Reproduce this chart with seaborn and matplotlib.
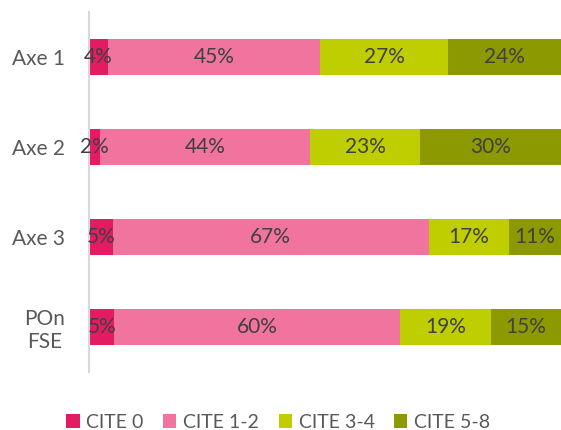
import numpy as np
import pandas as pd
import matplotlib
matplotlib.use("Agg")
import matplotlib.pyplot as plt
import seaborn as sns
from matplotlib.patches import Patch

categories = ["Axe 1", "Axe 2", "Axe 3", "POn\nFSE"]
series_names = ["CITE 0", "CITE 1-2", "CITE 3-4", "CITE 5-8"]
cite0 = [4.0, 2.4, 5.0, 5.4]
cite12 = [45.0, 44.4, 67.0, 60.4]
cite34 = [27.0, 23.4, 17.0, 19.4]
cite58 = [24.0, 29.8, 11.0, 14.8]
colors = ["#E31B62", "#F0749E", "#BFCE00", "#8C9900"]

sns.set_theme(style="white")
plt.rcParams["font.family"] = ["Lato", "DejaVu Sans"]

values = np.array([cite0, cite12, cite34, cite58])
cum = np.cumsum(values, axis=0)

fig = plt.figure(figsize=(5.61, 4.30), dpi=100)
ax = fig.add_axes([89 / 561, 1 - 372 / 430, 472 / 561, 360 / 430])

# draw cumulative bars from largest to smallest so they stack visually
for i in range(len(series_names) - 1, -1, -1):
    df = pd.DataFrame({"cat": categories, "val": cum[i]})
    sns.barplot(data=df, y="cat", x="val", color=colors[i], width=0.4,
                orient="h", ax=ax, saturation=1, edgecolor="none")

# labels
for i in range(len(series_names)):
    left = cum[i] - values[i]
    for j in range(len(categories)):
        ax.text(left[j] + values[i][j] / 2, j, f"{values[i][j]:.0f}%",
                ha="center", va="center", fontsize=15, color="#404040")

ax.set_xlim(0, 100)
ax.set_ylim(3.5, -0.5)
ax.set_xlabel("")
ax.set_ylabel("")
ax.set_xticks([])
ax.tick_params(axis="y", length=0, pad=17, labelsize=15, labelcolor="#595959")
for lab in ax.get_yticklabels():
    lab.set_multialignment("center")
for s in ["top", "right", "bottom"]:
    ax.spines[s].set_visible(False)
ax.spines["left"].set_color("#D9D9D9")
ax.spines["left"].set_linewidth(1.5)

handles = [Patch(facecolor=c, edgecolor="none") for c in colors]
fig.legend(handles, series_names, loc="center", bbox_to_anchor=(0.496, 0.018),
           ncol=4, frameon=False, fontsize=14, labelcolor="#595959",
           handlelength=0.68, handleheight=0.68, handletextpad=0.35,
           columnspacing=1.0, borderpad=0)

fig.savefig("out.png", dpi=100)
